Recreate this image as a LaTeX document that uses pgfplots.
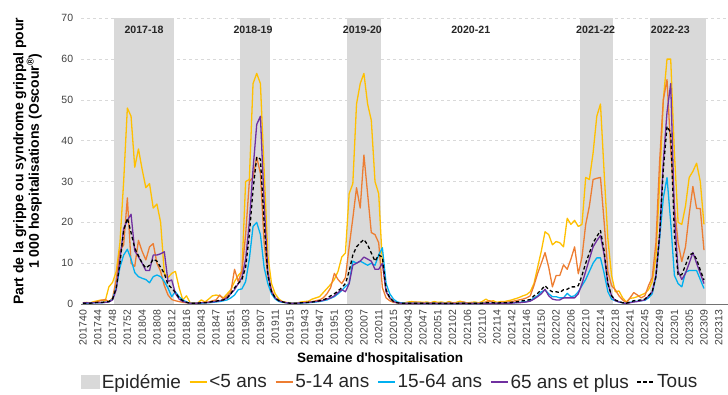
\documentclass[border=0pt]{standalone}
\usepackage{fontspec}
\setmainfont{Liberation Sans}
\usepackage{pgfplots}
\pgfplotsset{compat=1.18}
\usepackage{pgfplotstable}
\definecolor{cY}{HTML}{FFC000}
\definecolor{cO}{HTML}{ED7D31}
\definecolor{cB}{HTML}{00B0F0}
\definecolor{cP}{HTML}{7030A0}
\definecolor{cG}{HTML}{D9D9D9}
\definecolor{cT}{HTML}{404040}

\pgfplotstableread{
i y5 y514 y1564 y65 tous
0 0.3 0.2 0.2 0.3 0.2
1 0.4 0.3 0.2 0.3 0.2
2 0.3 0.3 0.2 0.2 0.2
3 0.6 0.4 0.3 0.3 0.3
4 0.8 0.6 0.3 0.3 0.4
5 1.0 0.9 0.3 0.3 0.4
6 0.7 1.1 0.4 0.4 0.5
7 4.2 0.6 0.5 0.5 0.6
8 5.3 1.5 1.2 1.0 1.2
9 8.0 6.0 4.0 3.5 4.0
10 15.0 13.0 9.0 11.0 10.0
11 30.0 14.5 12.0 18.5 18.0
12 48.0 26.0 13.4 20.5 21.0
13 46.0 10.0 11.0 22.0 17.5
14 33.5 9.2 7.7 13.0 13.7
15 38.0 15.6 6.7 11.6 11.8
16 33.0 12.9 6.3 10.0 10.0
17 28.5 10.8 6.0 8.2 8.8
18 29.5 14.0 5.2 8.2 9.5
19 23.5 14.8 6.7 12.0 11.0
20 24.5 10.0 7.1 12.0 10.5
21 20.0 8.0 6.7 12.3 9.0
22 7.5 4.5 5.5 12.8 7.5
23 6.5 2.2 3.9 5.5 4.7
24 7.5 1.1 1.8 5.9 3.9
25 8.0 0.8 3.0 2.6 2.8
26 4.0 0.6 1.8 1.2 1.5
27 1.0 0.4 1.0 0.6 0.8
28 2.0 0.3 0.5 0.4 0.4
29 0.3 0.2 0.2 0.2 0.2
30 0.3 0.2 0.2 0.2 0.2
31 0.2 0.3 0.2 0.2 0.2
32 1.0 0.3 0.2 0.3 0.3
33 0.5 0.5 0.3 0.3 0.3
34 1.2 0.5 0.3 0.4 0.4
35 2.0 0.8 0.4 0.5 0.6
36 2.2 1.0 0.5 0.6 0.7
37 2.0 2.2 0.6 0.8 0.9
38 1.5 1.2 0.8 1.0 1.0
39 2.5 2.0 1.0 1.5 1.5
40 3.5 3.0 1.5 2.5 2.5
41 5.5 8.5 2.2 3.5 4.0
42 7.0 5.5 3.5 5.0 5.0
43 8.0 8.0 3.7 6.5 6.0
44 30.0 17.0 5.5 11.0 9.0
45 30.5 30.0 11.0 20.0 17.0
46 54.0 31.0 19.0 33.0 28.0
47 56.5 36.0 20.0 44.0 36.0
48 54.0 32.0 17.0 46.0 35.5
49 33.0 15.0 9.0 25.0 20.0
50 12.0 7.0 5.0 8.0 7.0
51 5.0 3.5 2.5 3.0 3.0
52 2.5 1.5 1.2 1.5 1.5
53 1.2 0.8 0.6 0.8 0.8
54 0.6 0.5 0.4 0.5 0.5
55 0.4 0.3 0.3 0.3 0.3
56 0.3 0.2 0.2 0.2 0.2
57 0.2 0.2 0.2 0.2 0.2
58 0.3 0.2 0.2 0.2 0.2
59 0.5 0.3 0.2 0.3 0.3
60 0.6 0.4 0.3 0.3 0.3
61 0.7 0.5 0.3 0.4 0.4
62 1.2 0.6 0.4 0.5 0.5
63 1.5 0.8 0.5 0.6 0.6
64 1.8 1.0 0.6 0.7 0.8
65 2.8 1.5 0.8 0.9 1.0
66 3.8 2.5 1.0 1.2 1.4
67 4.8 4.0 1.4 1.5 2.0
68 6.0 7.5 1.8 2.0 2.5
69 8.0 6.0 2.5 2.8 3.2
70 11.5 5.0 3.3 3.5 4.0
71 12.5 6.5 4.3 3.0 5.0
72 27.0 14.0 5.0 5.0 8.0
73 29.5 21.0 10.5 9.5 12.0
74 49.0 28.5 10.0 10.0 14.0
75 54.0 23.5 10.5 10.5 15.0
76 56.5 36.5 10.0 11.5 15.8
77 49.0 27.0 9.5 11.0 14.5
78 45.0 17.5 10.0 10.5 12.5
79 30.0 17.0 9.5 8.5 10.5
80 27.0 15.0 12.0 8.5 12.0
81 10.0 4.0 13.8 10.0 11.5
82 3.0 1.5 5.0 3.0 3.5
83 1.5 0.8 2.5 1.5 1.5
84 0.6 0.4 1.2 0.6 0.6
85 0.4 0.3 0.5 0.3 0.3
86 0.2 0.2 0.3 0.2 0.2
87 0.3 0.2 0.2 0.1 0.2
88 0.5 0.3 0.2 0.1 0.2
89 0.6 0.3 0.2 0.1 0.2
90 0.4 0.5 0.2 0.1 0.2
91 0.5 0.3 0.2 0.1 0.2
92 0.4 0.3 0.1 0.1 0.2
93 0.5 0.2 0.2 0.1 0.2
94 0.3 0.3 0.1 0.1 0.1
95 0.6 0.3 0.2 0.1 0.2
96 0.4 0.2 0.1 0.1 0.1
97 0.5 0.3 0.2 0.1 0.2
98 0.3 0.2 0.1 0.1 0.1
99 0.6 0.4 0.2 0.1 0.2
100 0.3 0.3 0.1 0.1 0.1
101 0.4 0.2 0.1 0.1 0.1
102 0.7 0.3 0.2 0.1 0.2
103 0.4 0.5 0.2 0.1 0.2
104 0.3 0.2 0.1 0.1 0.1
105 0.4 0.3 0.1 0.1 0.1
106 0.5 0.2 0.2 0.1 0.2
107 0.3 0.2 0.1 0.1 0.1
108 0.6 0.3 0.2 0.1 0.2
109 1.2 0.5 0.2 0.1 0.3
110 0.6 0.8 0.2 0.1 0.3
111 0.8 0.4 0.2 0.2 0.3
112 0.4 0.3 0.2 0.1 0.2
113 0.6 0.4 0.2 0.2 0.3
114 0.6 0.4 0.2 0.2 0.3
115 0.8 0.5 0.2 0.2 0.3
116 1.0 0.6 0.3 0.2 0.4
117 1.3 0.8 0.3 0.3 0.5
118 1.6 1.0 0.4 0.3 0.6
119 2.0 1.2 0.5 0.4 0.8
120 2.3 1.5 0.6 0.5 0.9
121 3.0 2.0 0.8 0.7 1.1
122 5.0 4.5 1.5 1.2 2.0
123 9.0 7.5 2.0 1.8 2.6
124 13.0 10.0 3.0 2.5 3.5
125 17.7 12.6 3.4 3.6 4.5
126 17.0 9.0 2.5 2.0 3.5
127 14.5 4.2 1.8 1.2 3.0
128 15.3 7.0 1.8 1.0 3.0
129 15.0 7.0 1.5 1.0 2.8
130 14.0 9.6 1.5 1.5 3.5
131 21.0 8.5 2.6 1.5 3.6
132 19.5 11.0 1.8 1.5 4.2
133 20.5 14.0 2.0 1.5 4.2
134 19.0 7.4 3.0 2.5 4.5
135 19.5 11.5 4.5 5.0 7.0
136 31.0 19.5 6.0 8.0 10.0
137 30.5 24.0 8.0 11.0 12.5
138 37.0 30.5 10.0 14.0 15.0
139 46.0 30.8 11.3 15.5 16.5
140 49.0 31.0 11.3 16.8 18.0
141 32.0 20.0 7.5 12.0 13.0
142 16.0 8.0 3.0 5.0 5.0
143 7.0 4.5 1.2 2.0 2.0
144 3.0 3.5 0.8 0.8 1.0
145 3.2 2.0 0.5 0.5 0.6
146 1.5 1.0 0.3 0.3 0.3
147 0.5 0.3 0.1 0.1 0.2
148 1.4 1.5 0.4 0.3 0.5
149 1.5 2.8 0.6 0.5 0.8
150 1.8 2.2 0.7 0.6 0.9
151 2.2 1.5 0.8 0.8 1.0
152 2.6 2.0 0.9 1.0 1.2
153 3.5 4.5 1.5 2.0 2.0
154 5.5 6.5 2.5 3.0 3.0
155 11.6 15.0 6.7 7.0 6.7
156 29.6 35.0 16.0 17.0 17.0
157 50.0 50.0 26.0 35.0 33.0
158 60.0 55.0 31.0 47.0 43.5
159 60.0 38.0 20.0 54.0 42.0
160 37.0 24.0 7.0 22.0 17.0
161 20.0 15.0 5.0 8.0 7.0
162 19.5 10.4 4.2 6.0 7.2
163 24.0 14.0 7.8 7.5 9.5
164 31.0 22.0 8.2 10.0 12.0
165 32.5 28.8 8.2 12.6 12.4
166 34.5 23.4 8.2 10.0 11.0
167 30.0 23.4 6.0 7.5 8.3
168 19.5 13.2 3.8 5.0 5.9
}\data

\begin{document}
\begin{tikzpicture}[x=1pt,y=1pt]
\path[use as bounding box] (0,0) rectangle (728,394);
\begin{axis}[
  at={(81.15pt,90pt)}, anchor=south west,
  scale only axis, width=646.85pt, height=285.7pt,
  xmin=-0.5, xmax=174.5, ymin=0, ymax=70,
  axis x line*=bottom, axis y line*=left,
  y axis line style={draw=none},
  x axis line style={draw=black!55, line width=0.9pt},
  major tick length=0pt,
  ytick={0,10,...,70},
  ymajorgrids, grid style={cG, dashed, line width=0.6pt},
  xtick={0,4,...,172},
  xticklabels={201740,201744,201748,201752,201804,201808,201812,201816,201843,201847,201851,201903,201907,201911,201915,201943,201947,201951,202003,202007,202011,202015,202043,202047,202051,202102,202106,202110,202114,202142,202146,202150,202202,202206,202210,202214,202218,202241,202245,202249,202301,202305,202309,202313},
  xticklabel style={rotate=90, anchor=east, font=\fontsize{10.5}{12}\selectfont, text=cT},
  xticklabel shift=2.5pt,
  yticklabel style={font=\fontsize{10.5}{12}\selectfont, text=cT},
  yticklabel shift=4.5pt,
  /pgf/number format/assume math mode=true,
  xlabel={Semaine d\textquotesingle hospitalisation},
  xlabel style={font=\bfseries\fontsize{13.5}{15}\selectfont, at={(axis description cs:0.462,-0.1925)}, anchor=center},
  ylabel={Part de la grippe ou syndrome grippal pour\\1 000 hospitalisations (Oscour\textsuperscript{®})},
  ylabel style={align=center, font=\bfseries\fontsize{14}{15.5}\selectfont, at={(axis description cs:-0.0831,0.5)}, anchor=center},
  no markers,
  every axis plot/.append style={line join=round},
  legend columns=-1,
  legend style={draw=none, fill=none, at={(axis description cs:0.4776,-0.273)}, anchor=center,
    font=\fontsize{19}{22}\selectfont, text=black!85, inner sep=0pt,
    /tikz/every even column/.append style={column sep=6pt}},
]
\addplot[fill=cG, draw=none, legend image code/.code={\fill[cG] (0pt,-7pt) rectangle (19pt,7pt);}] coordinates {(8.5,70) (24.5,70)} \closedcycle;
\addlegendentry{Epidémie}
\addplot[fill=cG, draw=none, forget plot] coordinates {(42.5,70) (50.5,70)} \closedcycle;
\addplot[fill=cG, draw=none, forget plot] coordinates {(71.5,70) (80.5,70)} \closedcycle;
\addplot[fill=cG, draw=none, forget plot] coordinates {(134.5,70) (143.5,70)} \closedcycle;
\addplot[fill=cG, draw=none, forget plot] coordinates {(153.5,70) (168.5,70)} \closedcycle;
\addplot[cY, line width=1.3pt] table[x=i, y=y5] {\data};
\addlegendentry{<5 ans}
\addplot[cO, line width=1.3pt] table[x=i, y=y514] {\data};
\addlegendentry{5-14 ans}
\addplot[cB, line width=1.3pt] table[x=i, y=y1564] {\data};
\addlegendentry{15-64 ans}
\addplot[cP, line width=1.3pt] table[x=i, y=y65] {\data};
\addlegendentry{65 ans et plus}
\addplot[black, line width=1.3pt, dash pattern=on 3.5pt off 2.5pt] table[x=i, y=tous] {\data};
\addlegendentry{Tous}
\node[font=\bfseries\fontsize{10.6}{12}\selectfont, text=black!85] at (axis cs:16.5,67.2) {2017-18};
\node[font=\bfseries\fontsize{10.6}{12}\selectfont, text=black!85] at (axis cs:46,67.2) {2018-19};
\node[font=\bfseries\fontsize{10.6}{12}\selectfont, text=black!85] at (axis cs:75.6,67.2) {2019-20};
\node[font=\bfseries\fontsize{10.6}{12}\selectfont, text=black!85] at (axis cs:104.9,67.2) {2020-21};
\node[font=\bfseries\fontsize{10.6}{12}\selectfont, text=black!85] at (axis cs:138.7,67.2) {2021-22};
\node[font=\bfseries\fontsize{10.6}{12}\selectfont, text=black!85] at (axis cs:158.9,67.2) {2022-23};
\end{axis}
\end{tikzpicture}
\end{document}
